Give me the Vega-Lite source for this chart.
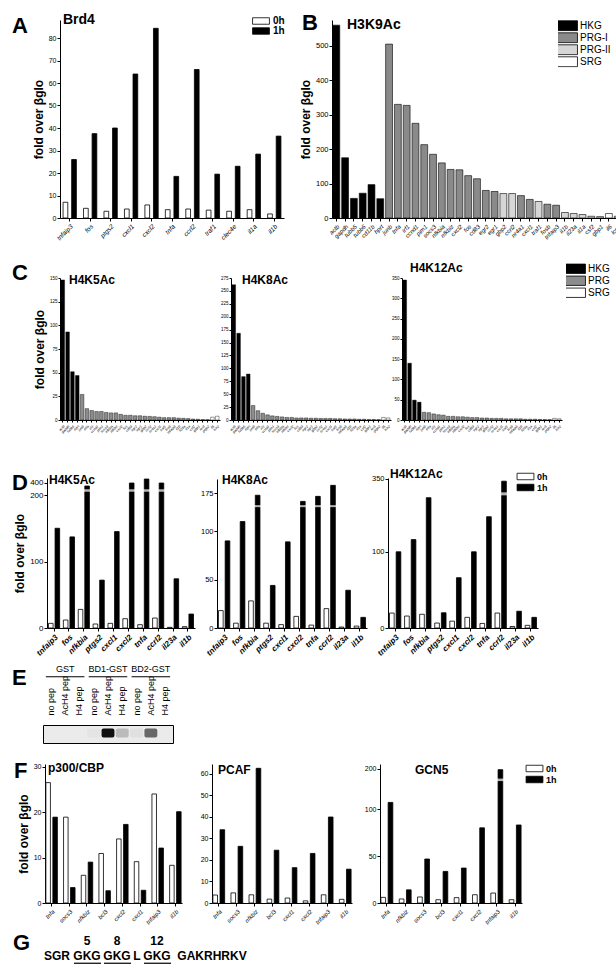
{
"$schema": "https://vega.github.io/schema/vega-lite/v6.json",
"background": "white",
"padding": {"left": 12, "top": 12, "right": 0, "bottom": 0},
"config": {
  "font": "Liberation Sans",
  "view": {"stroke": null},
  "axis": {"grid": false, "domainColor": "#000", "tickColor": "#000", "labelColor": "#000", "titleColor": "#000", "domainWidth": 1, "tickWidth": 1, "tickSize": 3, "labelPadding": 1, "labelFontSize": 7, "titleFontSize": 12, "titleFontWeight": "bold", "titlePadding": 3},
  "axisX": {"labelAngle": -45, "labelFontStyle": "italic", "labelPadding": 2},
  "legend": {"labelFontSize": 10, "labelFontWeight": "bold", "labelColor": "#000", "symbolStrokeColor": "#000", "symbolStrokeWidth": 1, "rowPadding": 0, "labelOffset": 7, "padding": 0, "symbolOpacity": 1},
  "title": {"anchor": "start", "frame": "group", "font": "Liberation Sans", "fontWeight": "bold", "color": "#000", "limit": 300},
  "bar": {"stroke": "#000", "strokeWidth": 0.8}
},
"datasets": {
  "brd4": [
    {"gene":"tnfaip3","time":"0h","value":7},{"gene":"tnfaip3","time":"1h","value":26},
    {"gene":"fos","time":"0h","value":4.3},{"gene":"fos","time":"1h","value":37.5},
    {"gene":"ptgs2","time":"0h","value":3},{"gene":"ptgs2","time":"1h","value":40},
    {"gene":"cxcl1","time":"0h","value":4},{"gene":"cxcl1","time":"1h","value":64},
    {"gene":"cxcl2","time":"0h","value":5.8},{"gene":"cxcl2","time":"1h","value":84.3},
    {"gene":"tnfa","time":"0h","value":3.7},{"gene":"tnfa","time":"1h","value":18.5},
    {"gene":"ccrl2","time":"0h","value":4},{"gene":"ccrl2","time":"1h","value":66},
    {"gene":"traf1","time":"0h","value":3.5},{"gene":"traf1","time":"1h","value":19.5},
    {"gene":"clec4e","time":"0h","value":3},{"gene":"clec4e","time":"1h","value":23},
    {"gene":"il1a","time":"0h","value":3.7},{"gene":"il1a","time":"1h","value":28.4},
    {"gene":"il1b","time":"0h","value":1.8},{"gene":"il1b","time":"1h","value":36.4}
  ],
  "h3k9": [
    {"gene":"actb","cls":"HKG","value":560},{"gene":"gapdh","cls":"HKG","value":175},{"gene":"tubb5","cls":"HKG","value":57},
    {"gene":"tubb6","cls":"HKG","value":72},{"gene":"cd11b","cls":"HKG","value":97},{"gene":"hprt","cls":"HKG","value":56},
    {"gene":"junb","cls":"PRG-I","value":505},{"gene":"tnfa","cls":"PRG-I","value":330},{"gene":"irf1","cls":"PRG-I","value":327},
    {"gene":"ccnd1","cls":"PRG-I","value":275},{"gene":"pim1","cls":"PRG-I","value":213},{"gene":"socs3","cls":"PRG-I","value":185},
    {"gene":"nfkbia","cls":"PRG-I","value":160},{"gene":"nfkbiz","cls":"PRG-I","value":141},{"gene":"cxcl2","cls":"PRG-I","value":140},
    {"gene":"fos","cls":"PRG-I","value":123},{"gene":"cd83","cls":"PRG-I","value":114},{"gene":"egr2","cls":"PRG-I","value":80},
    {"gene":"egr1","cls":"PRG-I","value":77},{"gene":"gbp2","cls":"PRG-II","value":71},{"gene":"ccrl2","cls":"PRG-II","value":71},
    {"gene":"nr4a1","cls":"PRG-I","value":65},{"gene":"cxcl1","cls":"PRG-I","value":54},{"gene":"traf1","cls":"PRG-II","value":48},
    {"gene":"fosb","cls":"PRG-I","value":40},{"gene":"tnfaip3","cls":"PRG-I","value":37},{"gene":"il1b","cls":"PRG-II","value":16},
    {"gene":"il23a","cls":"PRG-II","value":13},{"gene":"il1a","cls":"PRG-II","value":10},{"gene":"csf2","cls":"PRG-II","value":5},
    {"gene":"gbp1","cls":"PRG-II","value":4},{"gene":"il6","cls":"SRG","value":13},{"gene":"lcn2","cls":"PRG-II","value":5}
  ],
  "c1": [
    {"gene":"actb","cls":"HKG","value":148},{"gene":"gapdh","cls":"HKG","value":93},{"gene":"tubb5","cls":"HKG","value":51},{"gene":"hprt","cls":"HKG","value":47},
    {"gene":"junb","cls":"PRG","value":27},{"gene":"tnfa","cls":"PRG","value":12},{"gene":"irf1","cls":"PRG","value":10},{"gene":"ccnd1","cls":"PRG","value":9},
    {"gene":"pim1","cls":"PRG","value":9},{"gene":"socs3","cls":"PRG","value":8},{"gene":"nfkbia","cls":"PRG","value":7.5},{"gene":"nfkbiz","cls":"PRG","value":7.5},
    {"gene":"cxcl2","cls":"PRG","value":6},{"gene":"fos","cls":"PRG","value":5},{"gene":"cd83","cls":"PRG","value":5},{"gene":"egr2","cls":"PRG","value":4.5},
    {"gene":"egr1","cls":"PRG","value":4.5},{"gene":"gbp2","cls":"PRG","value":4},{"gene":"ccrl2","cls":"PRG","value":3.8},{"gene":"nr4a1","cls":"PRG","value":3.5},
    {"gene":"cxcl1","cls":"PRG","value":3},{"gene":"traf1","cls":"PRG","value":2.5},{"gene":"fosb","cls":"PRG","value":2.5},{"gene":"tnfaip3","cls":"PRG","value":2.5},
    {"gene":"il1b","cls":"PRG","value":2},{"gene":"il23a","cls":"PRG","value":1.8},{"gene":"il1a","cls":"PRG","value":1.5},{"gene":"csf2","cls":"PRG","value":1},
    {"gene":"gbp1","cls":"PRG","value":0.8},{"gene":"ier3","cls":"PRG","value":0.5},{"gene":"ptgs2","cls":"PRG","value":0.4},
    {"gene":"il6","cls":"SRG","value":3},{"gene":"lcn2","cls":"SRG","value":4}
  ],
  "c2": [
    {"gene":"actb","cls":"HKG","value":262},{"gene":"gapdh","cls":"HKG","value":168},{"gene":"tubb5","cls":"HKG","value":84},{"gene":"hprt","cls":"HKG","value":89},
    {"gene":"junb","cls":"PRG","value":28},{"gene":"tnfa","cls":"PRG","value":18},{"gene":"irf1","cls":"PRG","value":13},{"gene":"ccnd1","cls":"PRG","value":10},
    {"gene":"pim1","cls":"PRG","value":8},{"gene":"socs3","cls":"PRG","value":7},{"gene":"nfkbia","cls":"PRG","value":6},{"gene":"nfkbiz","cls":"PRG","value":5},
    {"gene":"cxcl2","cls":"PRG","value":5},{"gene":"fos","cls":"PRG","value":4},{"gene":"cd83","cls":"PRG","value":4},{"gene":"egr2","cls":"PRG","value":4},
    {"gene":"egr1","cls":"PRG","value":3.5},{"gene":"gbp2","cls":"PRG","value":3.5},{"gene":"ccrl2","cls":"PRG","value":3},{"gene":"nr4a1","cls":"PRG","value":3},
    {"gene":"cxcl1","cls":"PRG","value":3},{"gene":"traf1","cls":"PRG","value":2.5},{"gene":"fosb","cls":"PRG","value":2.5},{"gene":"tnfaip3","cls":"PRG","value":2},
    {"gene":"il1b","cls":"PRG","value":2},{"gene":"il23a","cls":"PRG","value":2},{"gene":"il1a","cls":"PRG","value":1.5},{"gene":"csf2","cls":"PRG","value":1.5},
    {"gene":"gbp1","cls":"PRG","value":1},{"gene":"ier3","cls":"PRG","value":1},{"gene":"ptgs2","cls":"PRG","value":0.8},
    {"gene":"il6","cls":"SRG","value":5},{"gene":"lcn2","cls":"SRG","value":4}
  ],
  "c3": [
    {"gene":"actb","cls":"HKG","value":345},{"gene":"gapdh","cls":"HKG","value":140},{"gene":"tubb5","cls":"HKG","value":49},{"gene":"hprt","cls":"HKG","value":44},
    {"gene":"junb","cls":"PRG","value":19},{"gene":"tnfa","cls":"PRG","value":18},{"gene":"irf1","cls":"PRG","value":15},{"gene":"ccnd1","cls":"PRG","value":13},
    {"gene":"pim1","cls":"PRG","value":12},{"gene":"socs3","cls":"PRG","value":9},{"gene":"nfkbia","cls":"PRG","value":9},{"gene":"nfkbiz","cls":"PRG","value":8},
    {"gene":"cxcl2","cls":"PRG","value":8},{"gene":"fos","cls":"PRG","value":7},{"gene":"cd83","cls":"PRG","value":6},{"gene":"egr2","cls":"PRG","value":6},
    {"gene":"egr1","cls":"PRG","value":5},{"gene":"gbp2","cls":"PRG","value":5},{"gene":"ccrl2","cls":"PRG","value":4},{"gene":"nr4a1","cls":"PRG","value":4},
    {"gene":"cxcl1","cls":"PRG","value":4},{"gene":"traf1","cls":"PRG","value":3},{"gene":"fosb","cls":"PRG","value":3},{"gene":"tnfaip3","cls":"PRG","value":3},
    {"gene":"il1b","cls":"PRG","value":3},{"gene":"il23a","cls":"PRG","value":2},{"gene":"il1a","cls":"PRG","value":2},{"gene":"csf2","cls":"PRG","value":2},
    {"gene":"gbp1","cls":"PRG","value":1.5},{"gene":"ier3","cls":"PRG","value":1},{"gene":"ptgs2","cls":"PRG","value":1},
    {"gene":"il6","cls":"SRG","value":4},{"gene":"lcn2","cls":"SRG","value":3}
  ],
  "d1": [
    {"gene":"tnfaip3","time":"0h","value":7},{"gene":"tnfaip3","time":"1h","value":150},
    {"gene":"fos","time":"0h","value":12},{"gene":"fos","time":"1h","value":137},
    {"gene":"nfkbia","time":"0h","value":28},{"gene":"nfkbia","time":"1h","value":348},
    {"gene":"ptgs2","time":"0h","value":6},{"gene":"ptgs2","time":"1h","value":72},
    {"gene":"cxcl1","time":"0h","value":7},{"gene":"cxcl1","time":"1h","value":145},
    {"gene":"cxcl2","time":"0h","value":14},{"gene":"cxcl2","time":"1h","value":397},
    {"gene":"tnfa","time":"0h","value":5},{"gene":"tnfa","time":"1h","value":463},
    {"gene":"ccrl2","time":"0h","value":15},{"gene":"ccrl2","time":"1h","value":397},
    {"gene":"il23a","time":"0h","value":1},{"gene":"il23a","time":"1h","value":74},
    {"gene":"il1b","time":"0h","value":2},{"gene":"il1b","time":"1h","value":21}
  ],
  "d2": [
    {"gene":"tnfaip3","time":"0h","value":18},{"gene":"tnfaip3","time":"1h","value":90},
    {"gene":"fos","time":"0h","value":5},{"gene":"fos","time":"1h","value":110},
    {"gene":"nfkbia","time":"0h","value":28},{"gene":"nfkbia","time":"1h","value":167},
    {"gene":"ptgs2","time":"0h","value":5},{"gene":"ptgs2","time":"1h","value":44},
    {"gene":"cxcl1","time":"0h","value":3.5},{"gene":"cxcl1","time":"1h","value":89},
    {"gene":"cxcl2","time":"0h","value":12},{"gene":"cxcl2","time":"1h","value":145},
    {"gene":"tnfa","time":"0h","value":3},{"gene":"tnfa","time":"1h","value":163},
    {"gene":"ccrl2","time":"0h","value":20},{"gene":"ccrl2","time":"1h","value":216},
    {"gene":"il23a","time":"0h","value":1},{"gene":"il23a","time":"1h","value":39},
    {"gene":"il1b","time":"0h","value":2},{"gene":"il1b","time":"1h","value":11}
  ],
  "d3": [
    {"gene":"tnfaip3","time":"0h","value":19.6},{"gene":"tnfaip3","time":"1h","value":100},
    {"gene":"fos","time":"0h","value":15.7},{"gene":"fos","time":"1h","value":116},
    {"gene":"nfkbia","time":"0h","value":18},{"gene":"nfkbia","time":"1h","value":171},
    {"gene":"ptgs2","time":"0h","value":6.5},{"gene":"ptgs2","time":"1h","value":20},
    {"gene":"cxcl1","time":"0h","value":9},{"gene":"cxcl1","time":"1h","value":66},
    {"gene":"cxcl2","time":"0h","value":14},{"gene":"cxcl2","time":"1h","value":100},
    {"gene":"tnfa","time":"0h","value":6},{"gene":"tnfa","time":"1h","value":146},
    {"gene":"ccrl2","time":"0h","value":19.6},{"gene":"ccrl2","time":"1h","value":315},
    {"gene":"il23a","time":"0h","value":2},{"gene":"il23a","time":"1h","value":22},
    {"gene":"il1b","time":"0h","value":3.5},{"gene":"il1b","time":"1h","value":14}
  ],
  "gel": [
    {"lane":"GST|no pep","signal":0},{"lane":"GST|AcH4 pep","signal":0},{"lane":"GST|H4 pep","signal":0},
    {"lane":"BD1-GST|no pep","signal":0.03},{"lane":"BD1-GST|AcH4 pep","signal":1},{"lane":"BD1-GST|H4 pep","signal":0.22},
    {"lane":"BD2-GST|no pep","signal":0.05},{"lane":"BD2-GST|AcH4 pep","signal":0.6},{"lane":"BD2-GST|H4 pep","signal":0}
  ],
  "gelgroups": [
    {"group":"GST","first":"GST|no pep","mid":"GST|AcH4 pep","last":"GST|H4 pep"},
    {"group":"BD1-GST","first":"BD1-GST|no pep","mid":"BD1-GST|AcH4 pep","last":"BD1-GST|H4 pep"},
    {"group":"BD2-GST","first":"BD2-GST|no pep","mid":"BD2-GST|AcH4 pep","last":"BD2-GST|H4 pep"}
  ],
  "f1": [
    {"gene":"tnfa","time":"0h","value":26.5},{"gene":"tnfa","time":"1h","value":18.9},
    {"gene":"socs3","time":"0h","value":18.9},{"gene":"socs3","time":"1h","value":3.4},
    {"gene":"nfkbiz","time":"0h","value":6.1},{"gene":"nfkbiz","time":"1h","value":9},
    {"gene":"bcl3","time":"0h","value":10.9},{"gene":"bcl3","time":"1h","value":2.7},
    {"gene":"cxcl2","time":"0h","value":14.1},{"gene":"cxcl2","time":"1h","value":17.3},
    {"gene":"cxcl1","time":"0h","value":9.1},{"gene":"cxcl1","time":"1h","value":2.8},
    {"gene":"tnfaip3","time":"0h","value":24},{"gene":"tnfaip3","time":"1h","value":12.1},
    {"gene":"il1b","time":"0h","value":8.3},{"gene":"il1b","time":"1h","value":20.1}
  ],
  "f2": [
    {"gene":"tnfa","time":"0h","value":3.7},{"gene":"tnfa","time":"1h","value":34},
    {"gene":"socs3","time":"0h","value":4.7},{"gene":"socs3","time":"1h","value":26.3},
    {"gene":"nfkbiz","time":"0h","value":3.8},{"gene":"nfkbiz","time":"1h","value":62.5},
    {"gene":"bcl3","time":"0h","value":1.8},{"gene":"bcl3","time":"1h","value":24.5},
    {"gene":"cxcl1","time":"0h","value":2.3},{"gene":"cxcl1","time":"1h","value":16.4},
    {"gene":"cxcl2","time":"0h","value":1},{"gene":"cxcl2","time":"1h","value":23},
    {"gene":"tnfaip3","time":"0h","value":3.8},{"gene":"tnfaip3","time":"1h","value":39.9},
    {"gene":"il1b","time":"0h","value":1.7},{"gene":"il1b","time":"1h","value":15.7}
  ],
  "f3": [
    {"gene":"tnfa","time":"0h","value":6},{"gene":"tnfa","time":"1h","value":107},
    {"gene":"nfkbiz","time":"0h","value":4.3},{"gene":"nfkbiz","time":"1h","value":14},
    {"gene":"socs3","time":"0h","value":6.4},{"gene":"socs3","time":"1h","value":46.8},
    {"gene":"bcl3","time":"0h","value":3.5},{"gene":"bcl3","time":"1h","value":33.6},
    {"gene":"cxcl1","time":"0h","value":5.7},{"gene":"cxcl1","time":"1h","value":37.2},
    {"gene":"cxcl2","time":"0h","value":8.8},{"gene":"cxcl2","time":"1h","value":80},
    {"gene":"tnfaip3","time":"0h","value":10.6},{"gene":"tnfaip3","time":"1h","value":195},
    {"gene":"il1b","time":"0h","value":3.5},{"gene":"il1b","time":"1h","value":83}
  ],
  "seqchunks": [
    {"text":"SGR","mid":2},{"text":"GKG","mid":5},{"text":"GKG","mid":8},
    {"text":"L","mid":10},{"text":"GKG","mid":12},{"text":"GAKRHRKV","mid":17.5}
  ],
  "seqsites": [{"residue":5},{"residue":8},{"residue":12}],
  "sequnder": [{"from":4,"to":6},{"from":7,"to":9},{"from":11,"to":13}]
},
"spacing": 0,
"bounds": "flush",
"resolve": {"scale": {"x": "independent", "y": "independent", "fill": "independent", "xOffset": "independent", "opacity": "independent"}, "legend": {"fill": "independent"}},
"vconcat": [
  {
    "hconcat": [
      {"width": 0, "height": 1, "data": {"values": []}, "mark": "point", "encoding": {}, "title": {"text": "A", "fontSize": 22, "dx": -28, "offset": -18}},
      {
        "width": 224, "height": 198,
        "data": {"name": "brd4"},
        "title": {"text": "Brd4", "fontSize": 14, "dx": 3, "offset": -11},
        "mark": "bar",
        "encoding": {
          "x": {"field": "gene", "type": "nominal", "sort": null, "title": null, "scale": {"paddingInner": 0.35, "paddingOuter": 0.15}, "axis": {"labelFontSize": 6.5}},
          "xOffset": {"field": "time", "type": "nominal", "sort": ["0h","1h"], "scale": {"paddingInner": 0.45}},
          "y": {"field": "value", "type": "quantitative", "title": "fold over βglo", "scale": {"domain": [0, 88], "nice": false}, "axis": {"values": [0,10,20,30,40,50,60,70,80]}},
          "fill": {"field": "time", "type": "nominal", "scale": {"domain": ["0h","1h"], "range": ["#ffffff","#000000"]}, "legend": {"title": null, "orient": "none", "legendX": 196, "legendY": -4, "symbolType": "M-2.6,-1H2.6V1H-2.6Z", "symbolSize": 42, "labelOffset": 7}}
        }
      },
      {"width": 48, "height": 1, "data": {"values": []}, "mark": "point", "encoding": {}, "title": {"text": "B", "fontSize": 22, "dx": 18, "offset": -15}},
      {
        "width": 290, "height": 198,
        "data": {"name": "h3k9"},
        "title": {"text": "H3K9Ac", "fontSize": 14, "dx": 15, "offset": -12},
        "mark": {"type": "bar", "strokeWidth": 0.6},
        "encoding": {
          "x": {"field": "gene", "type": "nominal", "sort": null, "title": null, "scale": {"paddingInner": 0.22, "paddingOuter": 0.1}, "axis": {"labelFontSize": 6}},
          "y": {"field": "value", "type": "quantitative", "title": "fold over βglo", "scale": {"domain": [0, 575], "nice": false}, "axis": {"values": [0,100,200,300,400,500], "labelFontSize": 7.5}},
          "fill": {"field": "cls", "type": "nominal", "scale": {"domain": ["HKG","PRG-I","PRG-II","SRG"], "range": ["#000000","#8a8a8a","#d6d6d6","#ffffff"]}, "legend": {"title": null, "orient": "none", "legendX": 226, "legendY": 0, "symbolType": "M-2.45,-0.9H2.45V0.9H-2.45Z", "symbolSize": 121, "labelOffset": 10, "labelFontSize": 10, "labelFontWeight": "normal", "clipHeight": 11.5}}
        }
      }
    ],
    "spacing": 0, "bounds": "flush",
    "resolve": {"scale": {"x": "independent", "y": "independent", "fill": "independent", "xOffset": "independent"}, "legend": {"fill": "independent"}}
  },
  {"width": 1, "height": 258, "data": {"values": []}, "mark": "point", "encoding": {}},
  {
    "hconcat": [
      {"width": 0, "height": 1, "data": {"values": []}, "mark": "point", "encoding": {}, "title": {"text": "C", "fontSize": 22, "dx": -28, "offset": -7}},
      {
        "width": 160, "height": 142,
        "data": {"name": "c1"},
        "title": {"text": "H4K5Ac", "fontSize": 12, "dx": 9, "offset": -12},
        "mark": {"type": "bar", "strokeWidth": 0.4},
        "encoding": {
          "x": {"field": "gene", "type": "nominal", "sort": null, "title": null, "scale": {"paddingInner": 0.25, "paddingOuter": 0.2}, "axis": {"labelFontSize": 3.5, "tickSize": 2}},
          "y": {"field": "value", "type": "quantitative", "title": "fold over βglo", "scale": {"domain": [0, 150], "nice": false}, "axis": {"values": [0,25,50,75,100,125,150], "labelFontSize": 4.5, "tickSize": 2}},
          "fill": {"field": "cls", "type": "nominal", "scale": {"domain": ["HKG","PRG","SRG"], "range": ["#000000","#8c8c8c","#ffffff"]}, "legend": null}
        }
      },
      {"width": 11, "height": 1, "data": {"values": []}, "mark": "point", "encoding": {}},
      {
        "width": 160, "height": 142,
        "data": {"name": "c2"},
        "title": {"text": "H4K8Ac", "fontSize": 12, "dx": 11, "offset": -12},
        "mark": {"type": "bar", "strokeWidth": 0.4},
        "encoding": {
          "x": {"field": "gene", "type": "nominal", "sort": null, "title": null, "scale": {"paddingInner": 0.25, "paddingOuter": 0.2}, "axis": {"labelFontSize": 3.5, "tickSize": 2}},
          "y": {"field": "value", "type": "quantitative", "title": null, "scale": {"domain": [0, 275], "nice": false}, "axis": {"values": [0,25,50,75,100,125,150,175,200,225,250,275], "labelFontSize": 4.5, "tickSize": 2}},
          "fill": {"field": "cls", "type": "nominal", "scale": {"domain": ["HKG","PRG","SRG"], "range": ["#000000","#8c8c8c","#ffffff"]}, "legend": null}
        }
      },
      {"width": 11, "height": 1, "data": {"values": []}, "mark": "point", "encoding": {}},
      {
        "width": 160, "height": 142,
        "data": {"name": "c3"},
        "title": {"text": "H4K12Ac", "fontSize": 12, "dx": 8, "offset": -12},
        "mark": {"type": "bar", "strokeWidth": 0.4},
        "encoding": {
          "x": {"field": "gene", "type": "nominal", "sort": null, "title": null, "scale": {"paddingInner": 0.25, "paddingOuter": 0.2}, "axis": {"labelFontSize": 3.5, "tickSize": 2}},
          "y": {"field": "value", "type": "quantitative", "title": null, "scale": {"domain": [0, 350], "nice": false}, "axis": {"values": [0,50,100,150,200,250,300,350], "labelFontSize": 4.5, "tickSize": 2}},
          "fill": {"field": "cls", "type": "nominal", "scale": {"domain": ["HKG","PRG","SRG"], "range": ["#000000","#8c8c8c","#ffffff"]}, "legend": {"title": null, "orient": "none", "legendX": 164, "legendY": -15, "symbolType": "M-2.45,-0.85H2.45V0.85H-2.45Z", "symbolSize": 121, "labelOffset": 10, "labelFontSize": 10, "labelFontWeight": "normal", "clipHeight": 11.5}}
        }
      }
    ],
    "spacing": 0, "bounds": "flush",
    "resolve": {"scale": {"x": "independent", "y": "independent", "fill": "independent"}, "legend": {"fill": "independent"}}
  },
  {"width": 1, "height": 200, "data": {"values": []}, "mark": "point", "encoding": {}},
  {
    "hconcat": [
      {"width": 7, "height": 1, "data": {"values": []}, "mark": "point", "encoding": {}, "title": {"text": "D", "fontSize": 22, "dx": -28, "offset": -17}},
      {
        "width": 148, "height": 150,
        "data": {"name": "d1"},
        "title": {"text": "H4K5Ac", "fontSize": 12, "dx": 2, "offset": -9},
        "encoding": {
          "x": {"field": "gene", "type": "nominal", "sort": null, "title": null, "scale": {"paddingInner": 0.25, "paddingOuter": 0.1}, "axis": {"labelFontSize": 8, "labelFontWeight": "bold"}},
          "xOffset": {"field": "time", "type": "nominal", "sort": ["0h","1h"], "scale": {"paddingInner": 0.3}}
        },
        "layer": [
          {"mark": "bar", "encoding": {
            "y": {"field": "value", "type": "quantitative", "title": "fold over βglo", "scale": {"domain": [0,200,480], "range": [150,17,0], "nice": false, "zero": false}, "axis": {"values": [0,100,200,400], "labelFontSize": 8}},
            "fill": {"field": "time", "type": "nominal", "scale": {"domain": ["0h","1h"], "range": ["#ffffff","#000000"]}, "legend": null}}},
          {"transform": [{"filter": "datum.value > 274"}], "mark": {"type": "tick", "color": "#ffffff", "thickness": 2.5, "size": 8}, "encoding": {
            "y": {"datum": 274, "type": "quantitative", "scale": {"domain": [0,200,480], "range": [150,17,0], "nice": false, "zero": false}}}}
        ]
      },
      {"width": 22, "height": 1, "data": {"values": []}, "mark": "point", "encoding": {}},
      {
        "width": 150, "height": 150,
        "data": {"name": "d2"},
        "title": {"text": "H4K8Ac", "fontSize": 12, "dx": 5, "offset": -9},
        "encoding": {
          "x": {"field": "gene", "type": "nominal", "sort": null, "title": null, "scale": {"paddingInner": 0.25, "paddingOuter": 0.1}, "axis": {"labelFontSize": 8, "labelFontWeight": "bold"}},
          "xOffset": {"field": "time", "type": "nominal", "sort": ["0h","1h"], "scale": {"paddingInner": 0.3}}
        },
        "layer": [
          {"mark": "bar", "encoding": {
            "y": {"field": "value", "type": "quantitative", "title": null, "scale": {"domain": [0,125,175,250], "range": [150,29,15,1], "nice": false, "zero": false}, "axis": {"values": [0,25,50,75,100,125,175,250], "labelFontSize": 7.5}},
            "fill": {"field": "time", "type": "nominal", "scale": {"domain": ["0h","1h"], "range": ["#ffffff","#000000"]}, "legend": null}}},
          {"transform": [{"filter": "datum.value > 131"}], "mark": {"type": "tick", "color": "#ffffff", "thickness": 2, "size": 8}, "encoding": {
            "y": {"datum": 128, "type": "quantitative", "scale": {"domain": [0,125,175,250], "range": [150,29,15,1], "nice": false, "zero": false}}}}
        ]
      },
      {"width": 21, "height": 1, "data": {"values": []}, "mark": "point", "encoding": {}},
      {
        "width": 150, "height": 150,
        "data": {"name": "d3"},
        "title": {"text": "H4K12Ac", "fontSize": 12, "dx": 2, "offset": -9},
        "encoding": {
          "x": {"field": "gene", "type": "nominal", "sort": null, "title": null, "scale": {"paddingInner": 0.25, "paddingOuter": 0.1}, "axis": {"labelFontSize": 8, "labelFontWeight": "bold"}},
          "xOffset": {"field": "time", "type": "nominal", "sort": ["0h","1h"], "scale": {"paddingInner": 0.3}}
        },
        "layer": [
          {"mark": "bar", "encoding": {
            "y": {"field": "value", "type": "quantitative", "title": null, "scale": {"domain": [0,180,360], "range": [150,12.8,0], "nice": false, "zero": false}, "axis": {"values": [0,50,100,150,350], "labelFontSize": 7.5}},
            "fill": {"field": "time", "type": "nominal", "scale": {"domain": ["0h","1h"], "range": ["#ffffff","#000000"]}, "legend": {"title": null, "orient": "none", "legendX": 133, "legendY": -6, "symbolType": "M-2.6,-1H2.6V1H-2.6Z", "symbolSize": 42, "labelOffset": 7, "labelFontSize": 9}}}},
          {"transform": [{"filter": "datum.value > 200"}], "mark": {"type": "tick", "color": "#ffffff", "thickness": 3, "size": 8}, "encoding": {
            "y": {"datum": 176, "type": "quantitative", "scale": {"domain": [0,180,360], "range": [150,12.8,0], "nice": false, "zero": false}}}}
        ]
      }
    ],
    "spacing": 0, "bounds": "flush",
    "resolve": {"scale": {"x": "independent", "y": "independent", "fill": "independent", "xOffset": "independent"}, "legend": {"fill": "independent"}}
  },
  {"width": 1, "height": 247, "data": {"values": []}, "mark": "point", "encoding": {}},
  {
    "hconcat": [
      {"width": 3, "height": 1, "data": {"values": []}, "mark": "point", "encoding": {}, "title": {"text": "E", "fontSize": 22, "dx": -28, "offset": 35}},
      {
        "width": 130, "height": 18,
        "view": {"fill": "#ebebeb", "stroke": "#000000", "strokeWidth": 1},
        "layer": [
          {
            "data": {"name": "gel"},
            "mark": {"type": "rect", "cornerRadius": 2},
            "encoding": {
              "x": {"field": "lane", "type": "nominal", "title": null, "scale": {"domain": ["GST|no pep","GST|AcH4 pep","GST|H4 pep","BD1-GST|no pep","BD1-GST|AcH4 pep","BD1-GST|H4 pep","BD2-GST|no pep","BD2-GST|AcH4 pep","BD2-GST|H4 pep"], "paddingInner": 0.1, "paddingOuter": 0.1},
                "axis": {"orient": "top", "labelAngle": -90, "labelAlign": "left", "labelBaseline": "middle", "labelExpr": "split(datum.label, '|')[1]", "ticks": false, "domain": false, "labelPadding": 10, "labelFontSize": 9, "labelFontStyle": "normal"}},
              "y": {"datum": 0.3, "type": "quantitative", "scale": {"domain": [0, 1]}, "axis": null},
              "y2": {"datum": 0.8},
              "fill": {"value": "#111111"},
              "opacity": {"field": "signal", "type": "quantitative", "scale": {"domain": [0, 1], "range": [0, 1]}, "legend": null}
            }
          },
          {
            "data": {"name": "gelgroups"},
            "mark": {"type": "text", "fontSize": 9, "baseline": "bottom"},
            "encoding": {
              "x": {"field": "mid", "type": "nominal", "title": null, "scale": {"domain": ["GST|no pep","GST|AcH4 pep","GST|H4 pep","BD1-GST|no pep","BD1-GST|AcH4 pep","BD1-GST|H4 pep","BD2-GST|no pep","BD2-GST|AcH4 pep","BD2-GST|H4 pep"]}},
              "y": {"datum": 3.85, "type": "quantitative", "scale": {"domain": [0, 1]}},
              "text": {"field": "group"}
            }
          },
          {
            "data": {"name": "gelgroups"},
            "mark": {"type": "rule", "strokeWidth": 1, "xOffset": -5, "x2Offset": 5},
            "encoding": {
              "x": {"field": "first", "type": "nominal", "title": null, "scale": {"domain": ["GST|no pep","GST|AcH4 pep","GST|H4 pep","BD1-GST|no pep","BD1-GST|AcH4 pep","BD1-GST|H4 pep","BD2-GST|no pep","BD2-GST|AcH4 pep","BD2-GST|H4 pep"]}},
              "x2": {"field": "last"},
              "y": {"datum": 3.68, "type": "quantitative", "scale": {"domain": [0, 1]}}
            }
          }
        ]
      }
    ],
    "spacing": 0, "bounds": "flush",
    "resolve": {"scale": {"x": "independent", "y": "independent"}}
  },
  {"width": 1, "height": 39, "data": {"values": []}, "mark": "point", "encoding": {}},
  {
    "hconcat": [
      {"width": 5, "height": 1, "data": {"values": []}, "mark": "point", "encoding": {}, "title": {"text": "F", "fontSize": 22, "dx": -26, "offset": -19}},
      {
        "width": 137, "height": 139,
        "data": {"name": "f1"},
        "title": {"text": "p300/CBP", "fontSize": 12, "dx": 3, "offset": -12},
        "mark": "bar",
        "encoding": {
          "x": {"field": "gene", "type": "nominal", "sort": null, "title": null, "scale": {"paddingInner": 0.35, "paddingOuter": 0.05}, "axis": {"labelFontSize": 6}},
          "xOffset": {"field": "time", "type": "nominal", "sort": ["0h","1h"], "scale": {"paddingInner": 0.35}},
          "y": {"field": "value", "type": "quantitative", "title": "fold over βglo", "scale": {"domain": [0, 30.6], "nice": false}, "axis": {"values": [0,10,20,30]}},
          "fill": {"field": "time", "type": "nominal", "scale": {"domain": ["0h","1h"], "range": ["#ffffff","#000000"]}, "legend": null}
        }
      },
      {"width": 30, "height": 1, "data": {"values": []}, "mark": "point", "encoding": {}},
      {
        "width": 140, "height": 139,
        "data": {"name": "f2"},
        "title": {"text": "PCAF", "fontSize": 12, "dx": 6, "offset": -13},
        "mark": "bar",
        "encoding": {
          "x": {"field": "gene", "type": "nominal", "sort": null, "title": null, "scale": {"paddingInner": 0.35, "paddingOuter": 0.05}, "axis": {"labelFontSize": 6}},
          "xOffset": {"field": "time", "type": "nominal", "sort": ["0h","1h"], "scale": {"paddingInner": 0.35}},
          "y": {"field": "value", "type": "quantitative", "title": null, "scale": {"domain": [0, 64.5], "nice": false}, "axis": {"values": [0,10,20,30,40,50,60]}},
          "fill": {"field": "time", "type": "nominal", "scale": {"domain": ["0h","1h"], "range": ["#ffffff","#000000"]}, "legend": null}
        }
      },
      {"width": 28, "height": 1, "data": {"values": []}, "mark": "point", "encoding": {}},
      {
        "width": 142, "height": 139,
        "data": {"name": "f3"},
        "title": {"text": "GCN5", "fontSize": 12, "dx": 35, "offset": -13},
        "encoding": {
          "x": {"field": "gene", "type": "nominal", "sort": null, "title": null, "scale": {"paddingInner": 0.35, "paddingOuter": 0.05}, "axis": {"labelFontSize": 6}},
          "xOffset": {"field": "time", "type": "nominal", "sort": ["0h","1h"], "scale": {"paddingInner": 0.35}}
        },
        "layer": [
          {"mark": "bar", "encoding": {
            "y": {"field": "value", "type": "quantitative", "title": null, "scale": {"domain": [0,125,220], "range": [139,21.5,0], "nice": false, "zero": false}, "axis": {"values": [0,50,100,200]}},
            "fill": {"field": "time", "type": "nominal", "scale": {"domain": ["0h","1h"], "range": ["#ffffff","#000000"]}, "legend": {"title": null, "orient": "none", "legendX": 150, "legendY": 0, "symbolType": "M-2.6,-1H2.6V1H-2.6Z", "symbolSize": 42, "labelOffset": 7, "labelFontSize": 9}}}},
          {"transform": [{"filter": "datum.value > 160"}], "mark": {"type": "tick", "color": "#ffffff", "thickness": 2.5, "size": 8}, "encoding": {
            "y": {"datum": 150, "type": "quantitative", "scale": {"domain": [0,125,220], "range": [139,21.5,0], "nice": false, "zero": false}}}}
        ]
      }
    ],
    "spacing": 0, "bounds": "flush",
    "resolve": {"scale": {"x": "independent", "y": "independent", "fill": "independent", "xOffset": "independent"}, "legend": {"fill": "independent"}}
  },
  {"width": 1, "height": 169, "data": {"values": []}, "mark": "point", "encoding": {}},
  {
    "width": 240, "height": 33,
    "title": {"text": "G", "fontSize": 22, "dx": -27, "offset": -22},
    "layer": [
      {
        "data": {"name": "seqchunks"},
        "mark": {"type": "text", "align": "center", "baseline": "middle", "fontSize": 12, "fontWeight": "bold"},
        "encoding": {
          "x": {"field": "mid", "type": "quantitative", "scale": {"domain": [0.3, 24.3], "zero": false, "nice": false}, "axis": null},
          "y": {"datum": 0.95, "type": "quantitative", "scale": {"domain": [0, 3]}, "axis": null},
          "text": {"field": "text"}
        }
      },
      {
        "data": {"name": "seqsites"},
        "mark": {"type": "text", "align": "center", "baseline": "middle", "fontSize": 12, "fontWeight": "bold"},
        "encoding": {
          "x": {"field": "residue", "type": "quantitative", "scale": {"domain": [0.3, 24.3], "zero": false, "nice": false}, "axis": null},
          "y": {"datum": 2.25, "type": "quantitative", "scale": {"domain": [0, 3]}, "axis": null},
          "text": {"field": "residue"}
        }
      },
      {
        "data": {"name": "sequnder"},
        "mark": {"type": "rule", "strokeWidth": 1.2, "xOffset": -3, "x2Offset": 4},
        "encoding": {
          "x": {"field": "from", "type": "quantitative", "scale": {"domain": [0.3, 24.3], "zero": false, "nice": false}, "axis": null},
          "x2": {"field": "to"},
          "y": {"datum": 0.25, "type": "quantitative", "scale": {"domain": [0, 3]}, "axis": null}
        }
      }
    ]
  }
]
}
